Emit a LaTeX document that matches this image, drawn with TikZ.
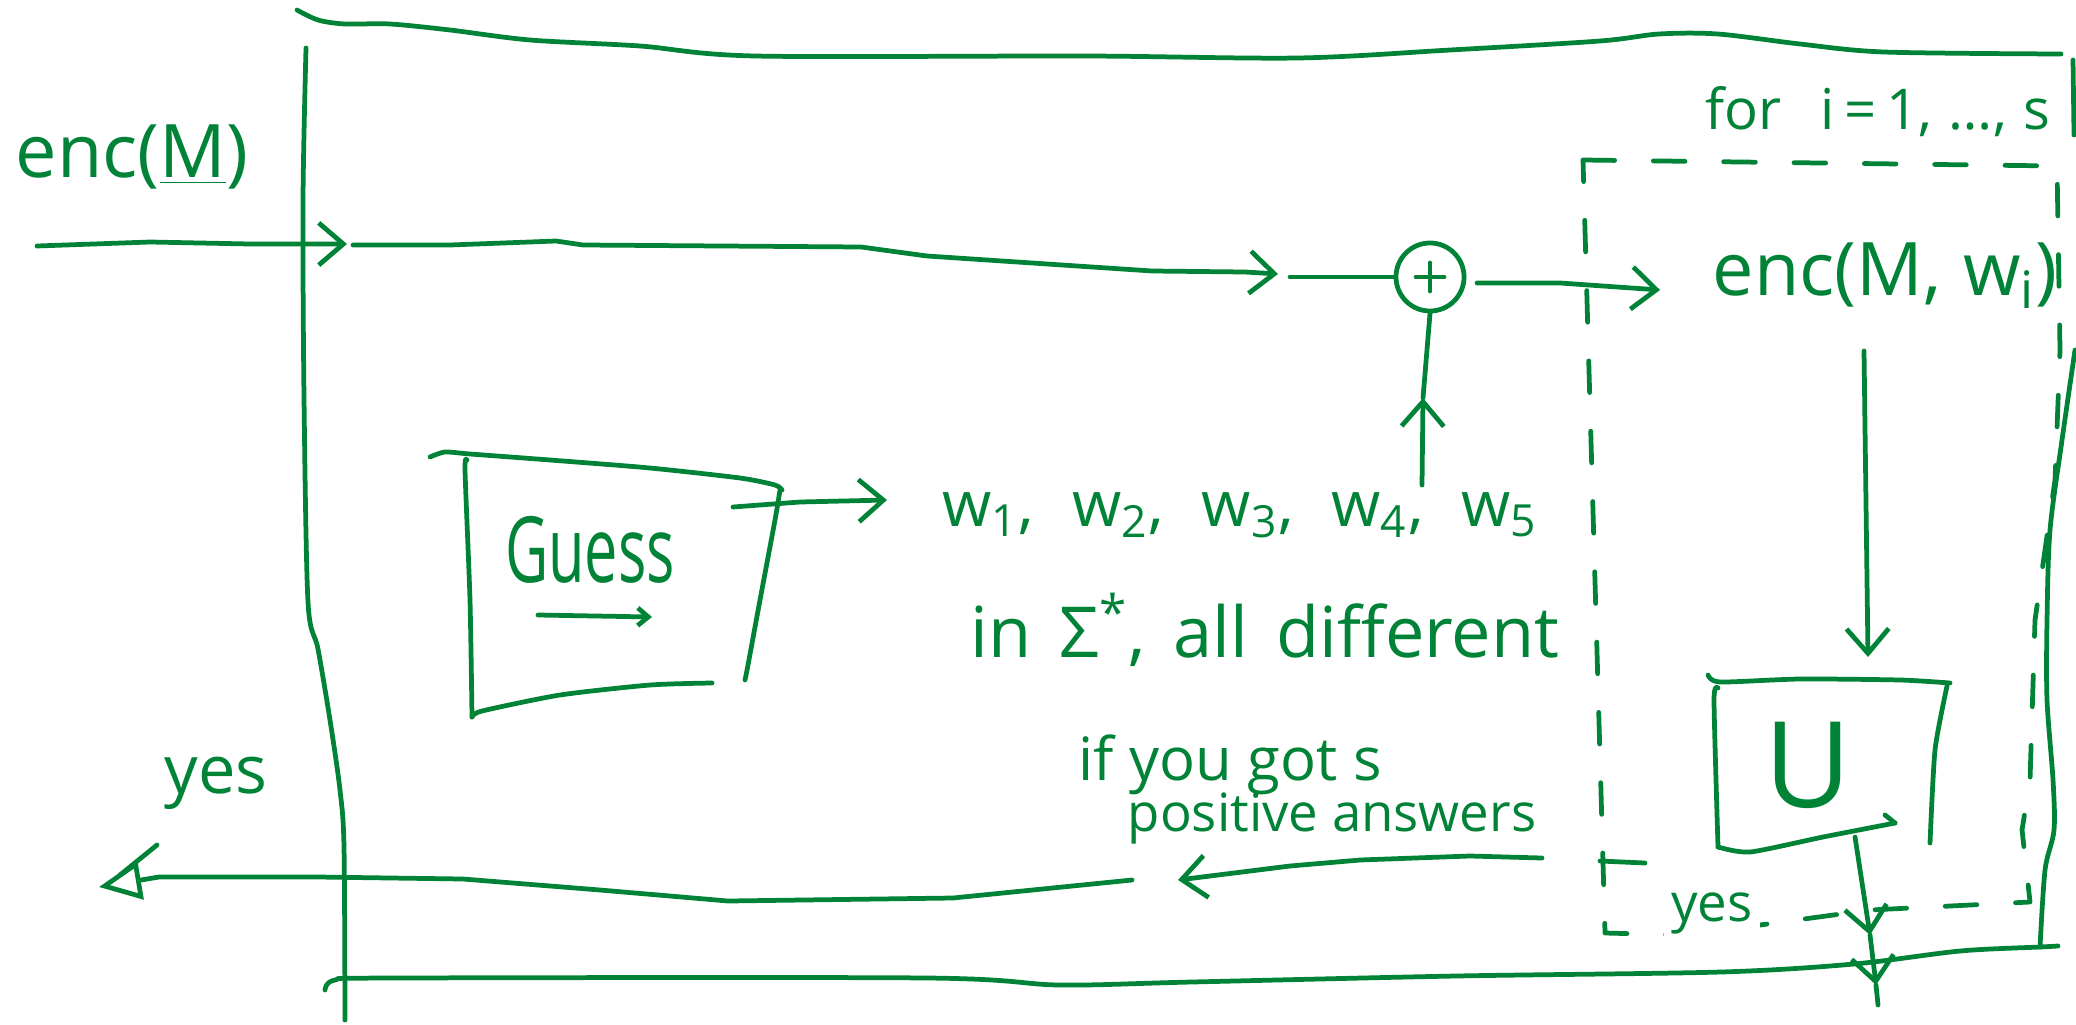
\documentclass[tikz,border=0pt]{standalone}
\usepackage{fontspec}
\usepackage{graphicx}
\setmainfont{Open Sans}
\usetikzlibrary{arrows.meta}
\definecolor{ink}{RGB}{0,130,55}
\begin{document}
\begin{tikzpicture}[x=0.01cm,y=-0.01cm,
  ink/.style={draw=ink, line width=1.35pt, line cap=round, line join=round},
  barb/.style={-{Straight Barb[length=7pt,width=12pt]}},
  dbox/.style={ink, dash pattern=on 9pt off 11pt},
  lbl/.style={text=ink, inner sep=0pt, anchor=center}]
\useasboundingbox (0,0) rectangle (2076,1024);

% ---------- outer box ----------
\draw[ink] plot[smooth, tension=0.5] coordinates {(297,10) (318,20) (345,24) (390,24) (450,30) (530,40) (640,46) (755,56) (1086,56) (1298,58) (1450,50) (1600,41) (1659,34) (1718,34) (1800,44) (1884,52) (2061,54)};
\draw[ink] plot[smooth, tension=0.5] coordinates {(306,48) (303,200) (304,397) (308,602) (318,649) (330,720) (340,790) (344,847) (345,1020)};
\draw[ink] plot[smooth, tension=0.5] coordinates {(325,990) (335,980) (397,978) (927,978) (1059,985) (1192,982) (1456,976) (1721,972) (1854,964) (1960,951) (2040,947) (2058,946)};
\draw[ink] (2073,60) -- (2074,135);
\draw[ink] plot[smooth, tension=0.5] coordinates {(2075,350) (2062,440) (2050,530) (2047,620) (2047,700) (2053,780) (2054,830) (2045,870) (2040,947)};

% ---------- dashed loop box ----------
\draw[dbox] (1583,160) -- (1820,163) -- (2057,166) -- (2060,350) -- (2055,480) -- (2035,620) -- (2030,780) -- (2022,830) -- (2030,902) -- (1870,910) -- (1760,925) -- (1680,935) -- (1605,933) -- cycle;
\draw[ink] (1600,861) -- (1645,863);
\node[lbl, font=\fontsize{16pt}{18pt}\selectfont] (forlbl) at (1878,112) {for\hspace{0.7em}i\,=\,1,\hspace{0.3em}\dots,\hspace{0.3em}s};

% ---------- input ----------
\node[lbl, font=\fontsize{21pt}{24pt}\selectfont] (encM) at (132,157) {enc(\underline{M})};
\coordinate (inL) at (37,246);
\coordinate (inR) at (347,244);
\draw[ink,barb] (inL) -- (150,242) -- (250,244) -- (inR);

% ---------- upper line to xor ----------
\node[draw=ink, line width=1.35pt, circle, minimum size=0.68cm, inner sep=0pt] (xor) at (1430,277) {};
\draw[ink] ([xshift=-0.14cm]xor.center) -- ([xshift=0.14cm]xor.center);
\draw[ink] ([yshift=0.14cm]xor.center) -- ([yshift=-0.14cm]xor.center);
\coordinate (t0) at (353,245);
\coordinate (t1) at (1278,274);
\coordinate (t2) at (1290,277);
\draw[ink,barb] (t0) -- (450,245) -- (556,241) -- (583,245) -- (861,247) -- (927,256) -- (1152,271) -- (1245,272) -- (t1);
\draw[ink] (t2) -- (xor.west);

% xor -> enc(M,w_i)
\node[lbl, font=\fontsize{21pt}{24pt}\selectfont] (encMw) at (1885,276) {enc(M,\hspace{0.3em}w\textsubscript{i})};
\coordinate (c1) at (1477,283);
\coordinate (c2) at (1660,290);
\draw[ink,barb] (c1) -- (1560,283) -- (c2);

% words -> xor
\coordinate (v0) at (1422,485);
\coordinate (vm) at (1423,398);
\draw[ink,barb] (v0) -- (vm);
\draw[ink] (vm) -- (xor.south);

% ---------- Guess box ----------
\draw[ink] plot[smooth, tension=0.4] coordinates {(430,457) (445,452) (470,454) (550,460) (650,468) (740,478) (775,485) (782,490)};
\draw[ink] plot[smooth, tension=0.4] coordinates {(467,460) (465,470) (470,600) (472,717)};
\draw[ink] plot[smooth, tension=0.4] coordinates {(472,717) (482,711) (560,695) (650,685) (712,683)};
\draw[ink] plot[smooth, tension=0.4] coordinates {(780,490) (775,520) (760,600) (748,665) (745,680)};
\node[lbl, font=\fontsize{26pt}{28pt}\selectfont] (guess) at (590,550) {\scalebox{0.65}[1]{Guess}};
\coordinate (ga) at (538,615);
\coordinate (gb) at (652,617);
\draw[ink,-{Straight Barb[length=3pt,width=5pt]}] (ga) -- (gb);
\coordinate (g0) at (733,507);
\coordinate (g1) at (887,500);
\draw[ink,barb] (g0) -- (800,502) -- (g1);

\node[lbl, font=\fontsize{18pt}{20pt}\selectfont] (ws) at (1240,515) {w\textsubscript{1},\hspace{0.6em}w\textsubscript{2},\hspace{0.6em}w\textsubscript{3},\hspace{0.6em}w\textsubscript{4},\hspace{0.6em}w\textsubscript{5}};
\node[lbl, font=\fontsize{20pt}{22pt}\selectfont] (sig) at (1265,630) {in\hspace{0.4em}Σ\textsuperscript{*},\hspace{0.4em}all\hspace{0.4em}different};

% ---------- enc -> U ----------
\coordinate (d0) at (1864,351);
\coordinate (d1) at (1868,657);
\draw[ink,barb] (d0) -- (d1);
\draw[ink] plot[smooth, tension=0.4] coordinates {(1708,675) (1720,682) (1800,679) (1900,680) (1950,683)};
\draw[ink] plot[smooth, tension=0.4] coordinates {(1947,686) (1935,750) (1930,843)};
\draw[ink] plot[smooth, tension=0.4] coordinates {(1718,688) (1714,700) (1718,847)};
\draw[ink] plot[smooth, tension=0.4] coordinates {(1718,847) (1750,852) (1823,837) (1895,823)};
\draw[ink] (1885,815) -- (1895,823);
\node[lbl, font=\fontsize{34pt}{36pt}\selectfont] (U) at (1808,765) {U};
\coordinate (u0) at (1855,837);
\coordinate (u1) at (1870,935);
\coordinate (u2) at (1876,985);
\coordinate (u3) at (1878,1005);
\draw[ink,barb] (u0) -- (u1);
\draw[ink,barb] (u1) -- (u2);
\draw[ink] (u2) -- (u3);
\node[lbl, fill=white, inner sep=2pt, font=\fontsize{15pt}{17pt}\selectfont] (yesD) at (1712,913) {yes};

% ---------- yes output ----------
\node[lbl, font=\fontsize{17pt}{19pt}\selectfont] (ifgot) at (1230,765) {if you got s};
\node[lbl, font=\fontsize{15pt}{17pt}\selectfont] (posans) at (1332,818) {positive answers};
\coordinate (y0) at (1542,858);
\coordinate (y1) at (1178,880);
\draw[ink,barb] (y0) -- (1470,856) -- (1360,860) -- (1290,866) -- (y1);
\coordinate (y2) at (1132,880);
\coordinate (y3) at (99,887);
\draw[ink,-{Triangle[open,length=12pt,width=11pt]}] (y2) -- (953,898) -- (728,901) -- (600,890) -- (463,879) -- (318,877) -- (159,877) -- (y3);
\draw[ink] (157,845) -- (120,875);
\node[lbl, font=\fontsize{19pt}{21pt}\selectfont] (yesL) at (216,783) {yes};
\end{tikzpicture}
\end{document}
